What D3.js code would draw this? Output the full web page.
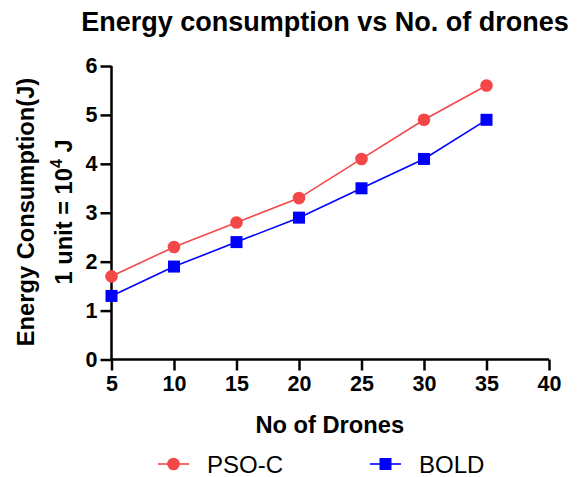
<!DOCTYPE html>
<html>
<head>
<meta charset="utf-8">
<script src="https://cdn.jsdelivr.net/npm/d3@7"></script>
<style>
  body { margin: 0; background: #fff; }
  svg { display: block; font-family: "Liberation Sans", Arial, sans-serif; }
  .axis path, .axis line { stroke: #000; stroke-width: 2.5px; }
  .axis text { font-size: 21.5px; font-weight: bold; fill: #000; }
</style>
</head>
<body>
<svg width="586" height="477"></svg>
<script>
const drones = [5, 10, 15, 20, 25, 30, 35];
const psoC = [1.7, 2.3, 2.8, 3.3, 4.1, 4.9, 5.6];
const bold = [1.3, 1.9, 2.4, 2.9, 3.5, 4.1, 4.9];
const xTicks = [5, 10, 15, 20, 25, 30, 35, 40];
const yTicks = [0, 1, 2, 3, 4, 5, 6];

const red = "#f44848", blue = "#0000ff";

const svg = d3.select("svg");

const x = d3.scaleLinear().domain([5, 40]).range([111.5, 549]);
const y = d3.scaleLinear().domain([0, 6]).range([359.5, 66]);

// axes
svg.append("g")
    .attr("class", "axis")
    .attr("transform", "translate(0," + y(0) + ")")
    .call(d3.axisBottom(x).tickValues(xTicks).tickFormat(d3.format("d"))
      .tickSize(11).tickPadding(5).tickSizeOuter(0))
    .call(g => g.select(".domain").attr("d", "M" + x(5) + ",0H" + x(40)));

svg.append("g")
    .attr("class", "axis")
    .attr("transform", "translate(" + x(5) + ",0)")
    .call(d3.axisLeft(y).tickValues(yTicks).tickFormat(d3.format("d"))
      .tickSize(11).tickPadding(3).tickSizeOuter(0))
    .call(g => g.select(".domain").attr("d", "M0," + y(0) + "V" + y(6)));

// series
const series = [
  {name: "PSO-C", values: psoC, color: red, shape: "circle"},
  {name: "BOLD", values: bold, color: blue, shape: "square"}
];

const line = d3.line()
    .x((d, i) => x(drones[i]))
    .y(d => y(d));

function drawMarker(sel, shape, color) {
  if (shape === "circle") {
    sel.append("circle").attr("r", 6.3).attr("fill", color);
  } else {
    sel.append("rect").attr("x", -6).attr("y", -6).attr("width", 12).attr("height", 12).attr("fill", color);
  }
}

series.forEach(s => {
  svg.append("path")
      .datum(s.values)
      .attr("fill", "none")
      .attr("stroke", s.color)
      .attr("stroke-width", 1.6)
      .attr("d", line);
  svg.append("g").selectAll("g")
      .data(s.values)
      .join("g")
      .attr("transform", (d, i) => "translate(" + x(drones[i]) + "," + y(d) + ")")
      .each(function() { drawMarker(d3.select(this), s.shape, s.color); });
});

// title
svg.append("text")
    .attr("x", 325).attr("y", 31)
    .attr("text-anchor", "middle")
    .attr("font-size", 27).attr("font-weight", "bold")
    .text("Energy consumption vs No. of drones");

// x label
svg.append("text")
    .attr("x", x(22.5) - 0.5).attr("y", 433)
    .attr("text-anchor", "middle")
    .attr("font-size", 23.7).attr("font-weight", "bold")
    .text("No of Drones");

// y label
const yl = svg.append("g").attr("transform", "translate(0,212) rotate(-90)");
yl.append("text")
    .attr("x", 0).attr("y", 34)
    .attr("text-anchor", "middle")
    .attr("font-size", 23.7).attr("font-weight", "bold")
    .text("Energy Consumption(J)");
const yl2 = yl.append("text")
    .attr("x", 0).attr("y", 72)
    .attr("text-anchor", "middle")
    .attr("font-size", 23.7).attr("font-weight", "bold");
yl2.append("tspan").text("1 unit = 10");
yl2.append("tspan").attr("font-size", 16).attr("dy", -10).text("4");
yl2.append("tspan").attr("dy", 10).text(" J");

// legend
const legendX = [158, 370];
series.forEach((s, i) => {
  const lg = svg.append("g").attr("transform", "translate(" + legendX[i] + ",464)");
  lg.append("line").attr("x1", 0).attr("x2", 31).attr("stroke", s.color).attr("stroke-width", 1.6);
  const m = lg.append("g").attr("transform", "translate(15.5,0)");
  drawMarker(m, s.shape, s.color);
  lg.append("text")
      .attr("x", 49).attr("y", 8.5)
      .attr("font-size", 24)
      .text(s.name);
});
</script>
</body>
</html>
